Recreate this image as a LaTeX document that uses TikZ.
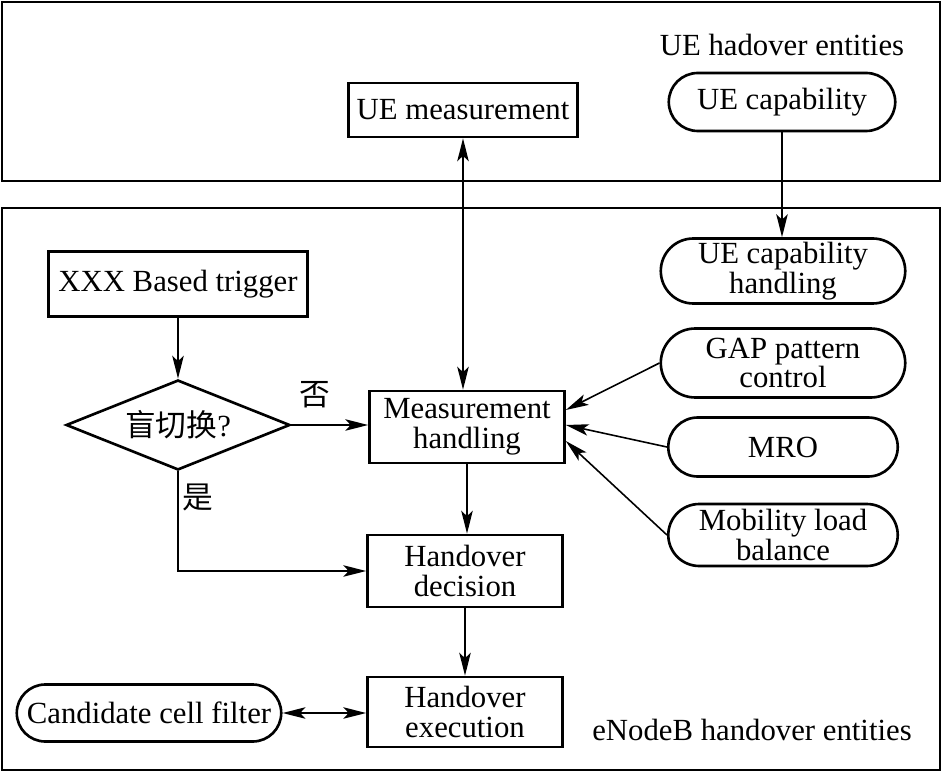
\documentclass[tikz,border=0pt]{standalone}
\usepackage{fontspec}
\setmainfont{Liberation Serif}
\newfontfamily\cjk{Noto Sans CJK SC}
\usetikzlibrary{arrows.meta,shapes.geometric,shapes.misc}
\begin{document}
\begin{tikzpicture}[x=0.02cm,y=-0.02cm,
  font=\fontsize{17.5}{17}\selectfont,
  blk/.style={draw,line width=1.5pt,inner sep=1pt,align=center},
  pill/.style={draw,line width=1.5pt,rounded rectangle,inner sep=1pt,align=center},
  decision/.style={draw,line width=1.5pt,diamond,aspect=2.5,inner sep=0pt,minimum width=4.48cm,minimum height=1.8cm},
  line/.style={line width=0.9pt,-{Stealth[length=13pt,width=6.5pt,inset=3pt]}},
  dline/.style={line width=0.9pt,{Stealth[length=13pt,width=6.5pt,inset=3pt]}-{Stealth[length=13pt,width=6.5pt,inset=3pt]}}]
\useasboundingbox (0,0) rectangle (942,773);
% two entity frames
\draw[line width=1.3pt] (2,2) rectangle (940,181);
\draw[line width=1.3pt] (2,208) rectangle (940,770);
\node at (782,45) {UE hadover entities};
\node at (752,730) {eNodeB handover entities};
% UE side
\node[blk,minimum width=4.58cm,minimum height=1.08cm] (uem) at (463,110) {UE measurement};
\node[pill,minimum width=4.6cm,minimum height=1.16cm] (cap) at (782,102) {UE capability};
% eNodeB side
\node[pill,minimum width=4.96cm,minimum height=1.3cm] (caph) at (783,271) {UE capability\\handling};
\node[pill,minimum width=4.96cm,minimum height=1.38cm] (gap) at (783,363) {GAP pattern\\control};
\node[pill,minimum width=4.66cm,minimum height=1.18cm] (mro) at (783,447) {MRO};
\node[pill,minimum width=4.66cm,minimum height=1.24cm] (mlb) at (783,535) {Mobility load\\balance};
\node[blk,minimum width=5.18cm,minimum height=1.3cm] (trig) at (178,284) {XXX Based trigger};
\node[decision] (blind) at (178,425) {{\cjk 盲切换}?};
\node[blk,minimum width=3.9cm,minimum height=1.44cm] (meas) at (467,427) {Measurement\\handling};
\node[blk,minimum width=3.9cm,minimum height=1.44cm] (hd) at (465,571) {Handover\\decision};
\node[blk,minimum width=3.9cm,minimum height=1.4cm] (he) at (465,712) {Handover\\execution};
\node[pill,minimum width=5.36cm,minimum height=1.14cm] (cand) at (149,713) {Candidate cell filter};
\node at (315,395) {\cjk 否};
\node at (198,497) {\cjk 是};
% connectors
\draw[dline] (uem.south) -- (uem.south |- meas.north);
\draw[line] (cap.south) -- (cap.south |- caph.north);
\draw[line] (trig.south) -- (blind.north);
\draw[line] (blind.east) -- (blind.east -| meas.west);
\draw[line] (blind.south) |- (hd.west);
\draw[line] (meas.south) -- (meas.south |- hd.north);
\draw[line] (hd.south) -- (he.north);
\draw[dline] (cand.east) -- (cand.east -| he.west);
\draw[line] (gap.west) -- ([yshift=0.34cm]meas.east);
\draw[line] (mro.west) -- ([yshift=0.04cm]meas.east);
\draw[line] (mlb.west) -- ([yshift=-0.28cm]meas.east);
\end{tikzpicture}
\end{document}
